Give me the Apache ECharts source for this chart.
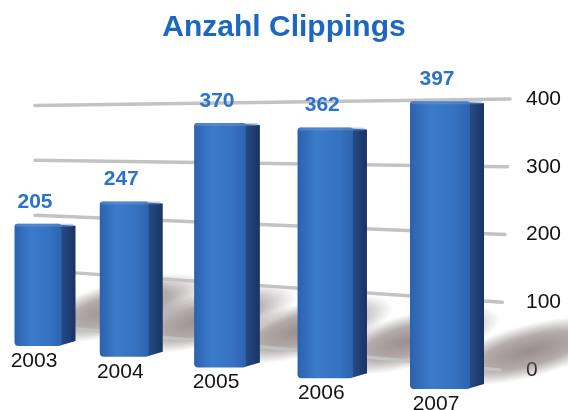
<!DOCTYPE html>
<html>
<head>
<meta charset="utf-8">
<script src="https://cdn.jsdelivr.net/npm/echarts@6/dist/echarts.min.js"></script>
<style>
html,body{margin:0;padding:0;background:#fff;}
#chart{width:568px;height:410px;}
</style>
</head>
<body>
<div id="chart"></div>
<script>
const titleText = 'Anzahl Clippings';
const categories = ['2003', '2004', '2005', '2006', '2007'];
const values = [205, 247, 370, 362, 397];
const yTicks = [0, 100, 200, 300, 400];

const FONT = '"Liberation Sans", Arial, Helvetica, sans-serif';

// perspective helper: maps flat axis coordinates to the slanted "3D" plane of the bars
function barGeom(params, api) {
  const cs = params.coordSys;
  const idx = api.value(0);
  const v = api.value(1);
  const p0 = api.coord([idx, 0]);
  const p1 = api.coord([idx, v]);
  const step = cs.width / categories.length;
  const t = (p0[0] - cs.x - step / 2) / (cs.width - step);
  const cx = 38 + 402 * t - 76 * t * (1 - t);
  const fw = 47 + 6 * t + 7 * t * t;
  const sw = 14;
  const bottom = p0[1] - 24 + 43 * t;
  const h = (p0[1] - p1[1]) * (0.88 + 0.19 * t);
  return { idx, v, cx, fw, sw, bottom, top: bottom - h, h, t };
}

const chart = echarts.init(document.getElementById('chart'), null, { renderer: 'canvas' });

const option = {
  animation: false,
  backgroundColor: '#ffffff',
  title: {
    text: titleText,
    left: 'center',
    top: 8,
    textStyle: { color: '#1c68bf', fontSize: 30, fontWeight: 'bold', fontFamily: FONT }
  },
  grid: { left: 35, right: 58, top: 99, bottom: 40 },
  xAxis: {
    type: 'category',
    data: categories,
    show: false
  },
  yAxis: {
    type: 'value',
    position: 'right',
    min: 0,
    max: 400,
    interval: 100,
    axisLine: { show: false },
    axisTick: { show: false },
    splitLine: { show: false },
    axisLabel: { color: '#111', fontSize: 21, fontFamily: FONT, margin: 16 }
  },
  series: [
    {
      // soft floor shadows
      type: 'custom',
      z: 1,
      clip: false,
      silent: true,
      data: values.map((v, i) => [i, v]),
      renderItem: function (params, api) {
        const g = barGeom(params, api);
        const xr = g.cx + g.fw / 2 + g.sw;
        return {
          type: 'circle',
          x: xr + 45,
          y: g.bottom - 38,
          rotation: 15 * Math.PI / 180,
          scaleX: 1.9,
          scaleY: 0.55,
          shape: { cx: 0, cy: 0, r: 48 },
          style: {
            fill: {
              type: 'radial', x: 0.5, y: 0.5, r: 0.5,
              colorStops: [
                { offset: 0, color: 'rgba(118,102,102,0.75)' },
                { offset: 0.55, color: 'rgba(118,102,102,0.55)' },
                { offset: 1, color: 'rgba(118,102,102,0)' }
              ]
            }
          }
        };
      }
    },
    {
      // slanted grid lines
      type: 'custom',
      z: 2,
      clip: false,
      silent: true,
      data: yTicks.map(v => [0, v]),
      renderItem: function (params, api) {
        const cs = params.coordSys;
        const v = api.value(1);
        const yR = api.coord([0, v])[1];
        const y0 = api.coord([0, 0])[1];
        const yL = y0 - 45 + (yR - y0) * 0.81;
        const xR = cs.x + cs.width - (400 - v) * 0.025;
        return {
          type: 'line',
          shape: { x1: cs.x, y1: yL, x2: xR, y2: yR },
          style: { stroke: '#c3c3c3', lineWidth: 3.5, lineCap: 'round' }
        };
      }
    },
    {
      // 3D-looking bars with labels
      type: 'custom',
      z: 3,
      clip: false,
      data: values.map((v, i) => [i, v]),
      renderItem: function (params, api) {
        const g = barGeom(params, api);
        const xl = g.cx - g.fw / 2;
        const xr = g.cx + g.fw / 2;
        return {
          type: 'group',
          children: [
            {
              type: 'polygon',
              shape: { points: [[xr - 3, g.top + 1], [xr + g.sw, g.top + 2], [xr + g.sw, g.bottom - 5], [xr - 3, g.bottom]] },
              style: {
                fill: {
                  type: 'linear', x: 0, y: 0, x2: 1, y2: 0,
                  colorStops: [
                    { offset: 0, color: '#27508f' },
                    { offset: 1, color: '#1a3363' }
                  ]
                }
              }
            },
            {
              type: 'rect',
              shape: { x: xl, y: g.top, width: g.fw, height: g.h, r: [3, 3, 4, 4] },
              style: {
                fill: {
                  type: 'linear', x: 0, y: 0, x2: 1, y2: 0,
                  colorStops: [
                    { offset: 0, color: '#2c62ae' },
                    { offset: 0.35, color: '#3b7bca' },
                    { offset: 0.75, color: '#3572c1' },
                    { offset: 1, color: '#2d63ae' }
                  ]
                }
              }
            },
            {
              type: 'rect',
              shape: { x: xl + 1, y: g.top, width: g.fw + g.sw - 3, height: 3, r: 1.5 },
              style: { fill: 'rgba(110,155,215,0.45)' }
            },
            {
              type: 'text',
              style: {
                x: g.cx - 3,
                y: g.top - 22,
                text: String(g.v),
                fill: '#2a73c8',
                font: 'bold 21px ' + FONT,
                align: 'center',
                verticalAlign: 'middle'
              }
            },
            {
              type: 'text',
              style: {
                x: g.cx - 4,
                y: g.bottom + 15,
                text: categories[g.idx],
                fill: '#141414',
                font: '21px ' + FONT,
                align: 'center',
                verticalAlign: 'middle'
              }
            }
          ]
        };
      }
    }
  ]
};

chart.setOption(option);
</script>
</body>
</html>
